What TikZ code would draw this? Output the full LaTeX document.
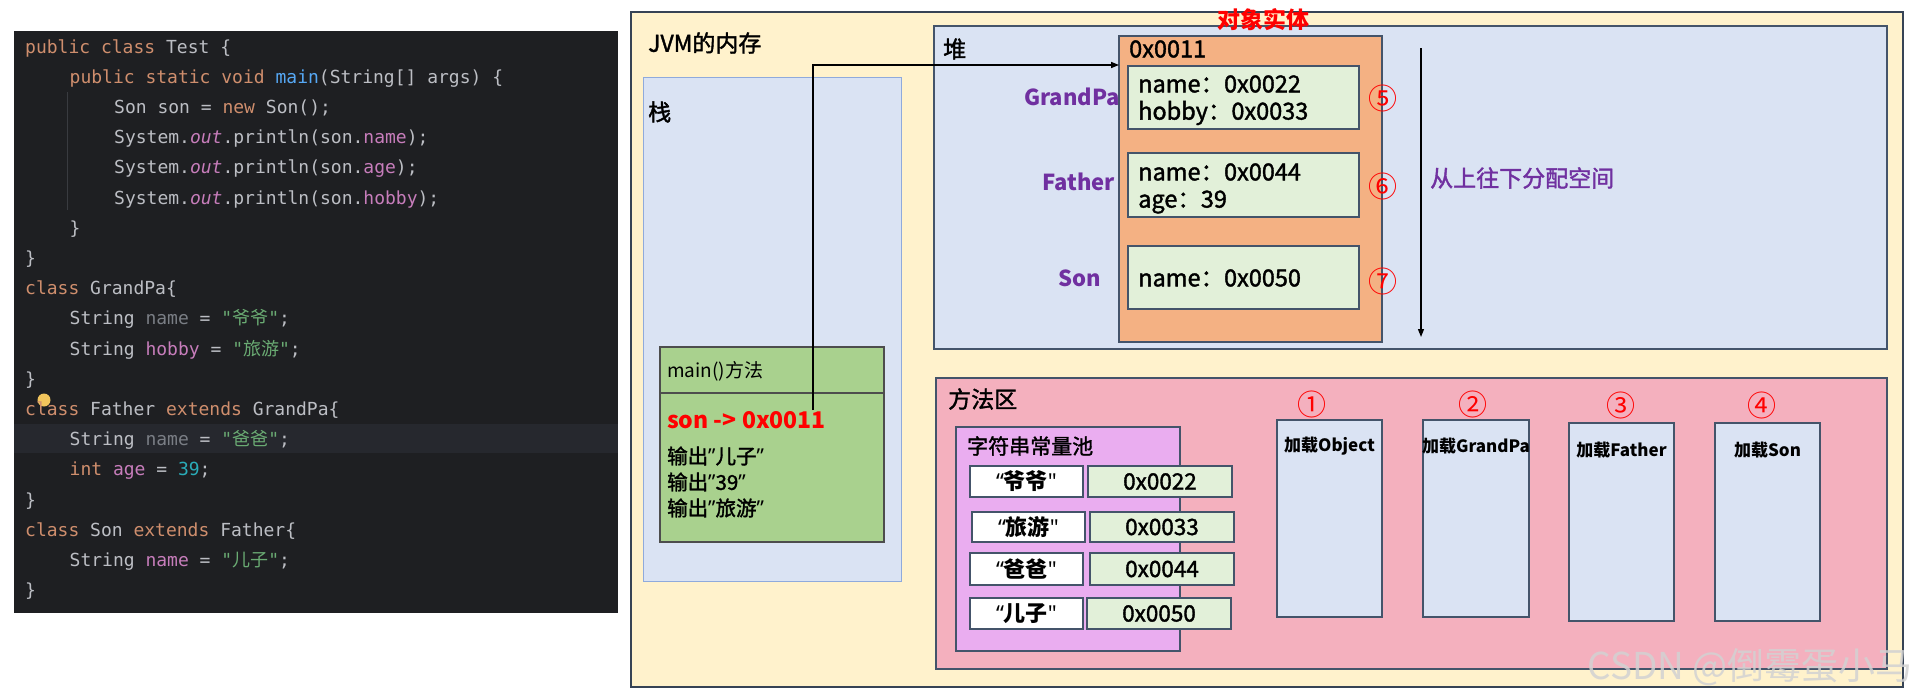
\documentclass[tikz,border=0pt]{standalone}
\usepackage{fontspec}
\setmainfont{Noto Sans CJK SC}
\setmonofont{DejaVu Sans Mono}
\newfontfamily\cjk{Noto Sans CJK SC}
\newfontfamily\med[FakeBold=1.6]{Noto Sans CJK SC}
\newfontfamily\qfont[Ligatures=TeXOff]{Noto Sans}
\usetikzlibrary{arrows.meta,positioning}

\definecolor{idebg}{HTML}{1E1F22}
\definecolor{idecur}{HTML}{26282E}
\definecolor{ideguide}{HTML}{393B40}
\definecolor{idetxt}{HTML}{BCBEC4}
\definecolor{idekw}{HTML}{CF8E6D}
\definecolor{idefn}{HTML}{56A8F5}
\definecolor{idefld}{HTML}{C77DBB}
\definecolor{idedim}{HTML}{7A7E85}
\definecolor{idestr}{HTML}{6AAB73}
\definecolor{idenum}{HTML}{2AACB8}
\definecolor{bulb}{HTML}{F2C55C}
\definecolor{jvmbg}{HTML}{FFF2CC}
\definecolor{frame}{HTML}{44546A}
\definecolor{paleblue}{HTML}{DAE3F3}
\definecolor{stackline}{HTML}{8FAADC}
\definecolor{mainedge}{HTML}{4D4D4D}
\definecolor{mainbg}{HTML}{A9D18E}
\definecolor{objbg}{HTML}{F4B183}
\definecolor{fieldbg}{HTML}{E2F0D9}
\definecolor{methbg}{HTML}{F4B0BE}
\definecolor{poolbg}{HTML}{EAADF0}
\definecolor{tagpurple}{HTML}{7030A0}

\newcommand{\ckw}[1]{\textcolor{idekw}{#1}}
\newcommand{\cfn}[1]{\textcolor{idefn}{#1}}
\newcommand{\cfld}[1]{\textcolor{idefld}{#1}}
\newcommand{\cdim}[1]{\textcolor{idedim}{#1}}
\newcommand{\cstr}[1]{\textcolor{idestr}{"{\cjk #1}"}}
\newcommand{\cnum}[1]{\textcolor{idenum}{#1}}
\newcommand{\qclose}{{\qfont ”}}
\newcommand{\qopen}{{\qfont “}}
\newcommand{\qstraight}{{\qfont\char"22}}

\begin{document}
\begin{tikzpicture}[x=1pt, y=-1pt,
  code/.style={anchor=base west, inner sep=0pt, text=idetxt,
    font=\ttfamily\fontsize{18}{21}\selectfont},
  region/.style={draw=frame, line width=1.2pt, anchor=north west,
    inner sep=0pt, outer sep=0pt},
  head/.style={anchor=west, inner sep=0pt, font=\med\fontsize{23}{27}\selectfont},
  field/.style={anchor=west, inner sep=0pt, font=\med\fontsize{23.5}{27}\selectfont},
  tag/.style={anchor=west, inner sep=0pt, text=tagpurple,
    font=\bfseries\fontsize{22}{26}\selectfont},
  seq/.style={inner sep=0pt, text=red, font=\fontsize{29}{32}\selectfont},
  keybox/.style={region, fill=white, minimum width=113pt,
    font=\bfseries\fontsize{22}{26}\selectfont},
  valbox/.style={region, fill=fieldbg, minimum width=144pt,
    font=\med\fontsize{22.5}{26}\selectfont},
  loadbox/.style={region, fill=paleblue, minimum width=105pt},
  loadtxt/.style={inner sep=0pt, font=\bfseries\fontsize{17}{20}\selectfont},
  ptr/.style={-{Triangle[length=8pt,width=6pt]}, line width=1.4pt},
  wmark/.style={inner sep=0pt, text=gray!35, opacity=0.85,
    font=\fontsize{37}{40}\selectfont}]

  \path[fill=white] (0,0) rectangle (1919,699);
  \useasboundingbox (0,0) rectangle (1919,699);

  % IDE screenshot
  \node[anchor=north west, fill=idebg, inner sep=0pt, minimum width=604pt, minimum height=582pt] (ide) at (14,31) {};
  \fill[idecur] (14,424) rectangle (618,453);
  \draw[ideguide, line width=1pt] (67.5,92) -- (67.5,210);
  \fill[bulb] (44,400) circle (6.5);
  \node[code] (l1) at (25,53) {\ckw{public class} Test \{};
  \node[code] (l2) at (69.5,83.2) {\ckw{public static void} \cfn{main}(String[] args) \{};
  \node[code] (l3) at (114,113.4) {Son son = \ckw{new} Son();};
  \node[code] (l4) at (114,143.6) {System.\cfld{\textit{out}}.println(son.\cfld{name});};
  \node[code] (l5) at (114,173.8) {System.\cfld{\textit{out}}.println(son.\cfld{age});};
  \node[code] (l6) at (114,204) {System.\cfld{\textit{out}}.println(son.\cfld{hobby});};
  \node[code] (l7) at (69.5,234.2) {\}};
  \node[code] (l8) at (25,264.4) {\}};
  \node[code] (l9) at (25,294.6) {\ckw{class} GrandPa\{};
  \node[code] (l10) at (69.5,324.8) {String \cdim{name} = \cstr{爷爷};};
  \node[code] (l11) at (69.5,355) {String \cfld{hobby} = \cstr{旅游};};
  \node[code] (l12) at (25,385.2) {\}};
  \node[code] (l13) at (25,415.4) {\ckw{class} Father \ckw{extends} GrandPa\{};
  \node[code] (l14) at (69.5,445.6) {String \cdim{name} = \cstr{爸爸};};
  \node[code] (l15) at (69.5,475.8) {\ckw{int} \cfld{age} = \cnum{39};};
  \node[code] (l16) at (25,506) {\}};
  \node[code] (l17) at (25,536.2) {\ckw{class} Son \ckw{extends} Father\{};
  \node[code] (l18) at (69.5,566.4) {String \cfld{name} = \cstr{儿子};};
  \node[code] (l19) at (25,596.6) {\}};

  % JVM memory
  \node[region, draw=frame!80!black, fill=jvmbg, minimum width=1272pt, minimum height=675pt] (jvm) at (631,12) {};
  \node[head] (jvmlbl) at (648,43) {JVM的内存};

  % stack
  \node[region, draw=stackline, line width=1pt, fill=paleblue, minimum width=258pt, minimum height=504pt] (stack) at (643,77) {};
  \node[head] (stacklbl) at (648,112) {栈};
  \node[region, draw=mainedge, fill=mainbg, minimum width=224pt, minimum height=195pt] (frame) at (660,347) {};
  \draw[mainedge, line width=1.2pt] ([yshift=-46pt]frame.north west) -- ([yshift=-46pt]frame.north east);
  \node[anchor=west, inner sep=0pt, font=\fontsize{19}{22}\selectfont] (mainlbl) at (667,371) {main()方法};
  \node[anchor=west, inner sep=0pt, text=red, font=\bfseries\fontsize{23}{27}\selectfont] (sonref) at (667,420) {son -> 0x0011};
  \node[anchor=west, inner sep=0pt, font=\med\fontsize{20.5}{24}\selectfont] (out1) at (667,456) {输出\qclose 儿子\qclose};
  \node[anchor=west, inner sep=0pt, font=\med\fontsize{20.5}{24}\selectfont] (out2) at (667,482) {输出\qclose 39\qclose};
  \node[anchor=west, inner sep=0pt, font=\med\fontsize{20.5}{24}\selectfont] (out3) at (667,508) {输出\qclose 旅游\qclose};

  % heap
  \node[region, fill=paleblue, minimum width=953pt, minimum height=323pt] (heap) at (934,26) {};
  \node[head] (heaplbl) at (943,49) {堆};
  \node[tag] (gp) at (1024,97) {GrandPa};
  \node[tag] (fa) at (1042,182) {Father};
  \node[tag] (so) at (1058,278) {Son};
  \node[region, fill=objbg, minimum width=263pt, minimum height=306pt] (obj) at (1119,36) {};
  \node[inner sep=0pt, text=red, font=\bfseries\fontsize{23}{27}\selectfont] (objlbl) at (1263,20) {对象实体};
  \node[field] (addr) at (1129,49) {0x0011};
  \node[region, fill=fieldbg, minimum width=231pt, minimum height=63pt] (f5) at (1128,66) {};
  \node[region, fill=fieldbg, minimum width=231pt, minimum height=64pt] (f6) at (1128,153) {};
  \node[region, fill=fieldbg, minimum width=231pt, minimum height=63pt] (f7) at (1128,246) {};
  \node[field] (gpname) at (1138,84) {name：0x0022};
  \node[field] (gphobby) at (1138,113) {hobby：0x0033};
  \node[field] (faname) at (1138,172) {name：0x0044};
  \node[field] (faage) at (1138,202) {age：39};
  \node[field] (soname) at (1138,278) {name：0x0050};
  \node[seq] (n5) at (1383,98) {⑤};
  \node[seq] (n6) at (1383,186) {⑥};
  \node[seq] (n7) at (1383,281) {⑦};
  \coordinate (alloctop) at (1421,48);
  \coordinate (allocbot) at (1421,337);
  \draw[ptr, line width=1.2pt] (alloctop) -- (allocbot);
  \node[anchor=west, inner sep=0pt, text=tagpurple, font=\med\fontsize{23}{27}\selectfont] (alloc) at (1430,178) {从上往下分配空间};

  % method area
  \node[region, fill=methbg, minimum width=951pt, minimum height=291pt] (meth) at (936,378) {};
  \node[head] (methlbl) at (948,399) {方法区};
  \node[region, fill=poolbg, minimum width=224pt, minimum height=224pt] (pool) at (956,427) {};
  \node[anchor=west, inner sep=0pt, font=\med\fontsize{21}{25}\selectfont] (poollbl) at (967,446) {字符串常量池};
  \node[keybox, minimum height=31pt] (k1) at (970,466) {\qopen 爷爷\qstraight};
  \node[valbox, minimum height=31pt] (v1) at (1088,466) {0x0022};
  \node[keybox, minimum height=30pt] (k2) at (972,512) {\qopen 旅游\qstraight};
  \node[valbox, minimum height=30pt] (v2) at (1090,512) {0x0033};
  \node[keybox, minimum height=32pt] (k3) at (970,553) {\qopen 爸爸\qstraight};
  \node[valbox, minimum height=32pt] (v3) at (1090,553) {0x0044};
  \node[keybox, minimum height=31pt] (k4) at (970,598) {\qopen 儿子\qstraight};
  \node[valbox, minimum height=31pt] (v4) at (1087,598) {0x0050};

  \node[loadbox, minimum height=197pt] (c1) at (1277,420) {};
  \node[loadbox, minimum height=197pt, minimum width=106pt] (c2) at (1423,420) {};
  \node[loadbox, minimum height=198pt] (c3) at (1569,423) {};
  \node[loadbox, minimum height=198pt] (c4) at (1715,423) {};
  \node[loadtxt] (t1) at ([yshift=-26pt]c1.north) {加载Object};
  \node[loadtxt] (t2) at ([yshift=-26pt]c2.north) {加载GrandPa};
  \node[loadtxt] (t3) at ([yshift=-27pt]c3.north) {加载Father};
  \node[loadtxt] (t4) at ([yshift=-27pt]c4.north) {加载Son};
  \node[seq] (n1) at (1312,404) {①};
  \node[seq] (n2) at (1473,404) {②};
  \node[seq] (n3) at (1621,405) {③};
  \node[seq] (n4) at (1762,405) {④};

  % reference from the stack frame to the object
  \coordinate (sonptr) at (813,410);
  \draw[ptr] (sonptr) |- ([yshift=-29pt]obj.north west);

  \node[wmark] (csdn) at (1750,667) {CSDN @倒霉蛋小马};
\end{tikzpicture}
\end{document}
